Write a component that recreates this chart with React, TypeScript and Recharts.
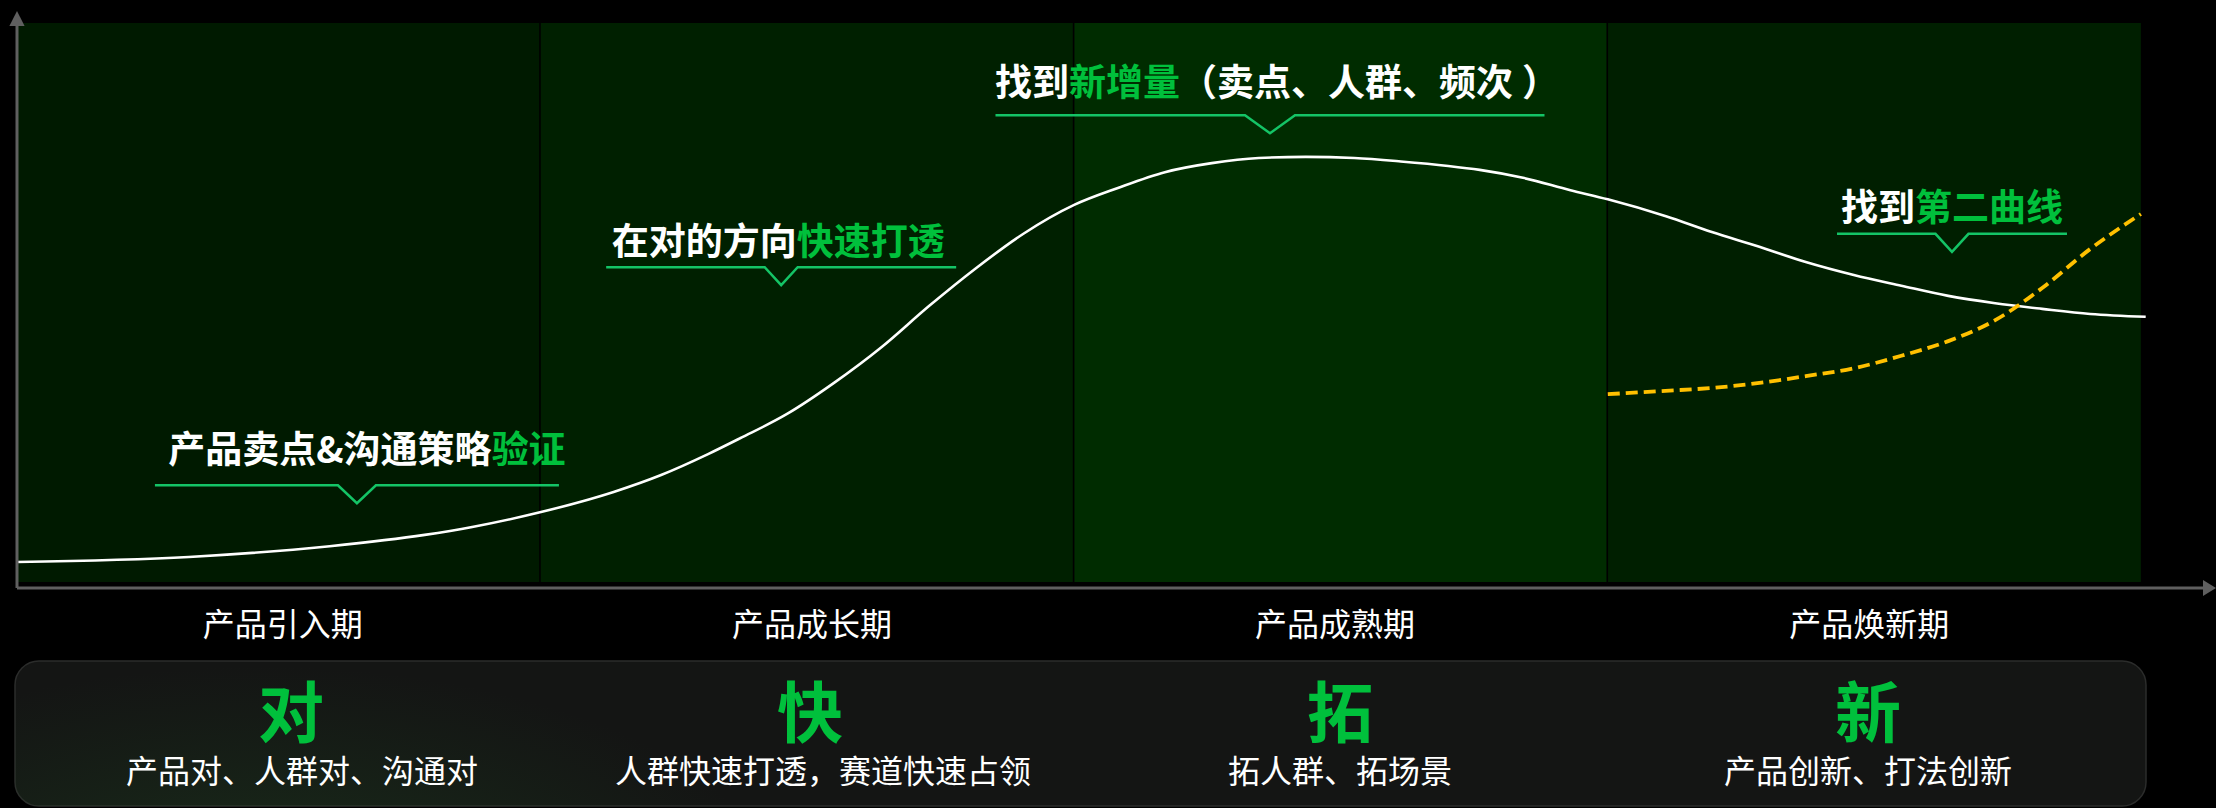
import React from 'react';
import { ComposedChart, Line, XAxis, YAxis, ReferenceArea, ReferenceLine, ReferenceDot } from 'recharts';

// ---------------- data ----------------
const stages = ['产品引入期', '产品成长期', '产品成熟期', '产品焕新期'];
const stageFrom = [2, 100, 200, 300];
const stageTo = [100, 200, 300, 400];
const stageLabelAt = [51.8, 151.0, 249.0, 349.1];

// product life-cycle curve (white)
const lifeX = [2.0, 34.2, 60.6, 78.4, 87.3, 100.0, 113.8, 122.7, 131.5, 137.5, 146.3, 155.1, 164.1, 172.9, 181.7, 190.6, 200.1, 208.3, 217.1, 225.9, 234.7, 243.5, 252.6, 261.3, 270.2, 276.1, 284.2, 293.1, 300.1, 311.0, 319.6, 328.5, 337.2, 346.2, 355.1, 363.9, 372.7, 381.5, 390.5, 400.9];
const lifeY = [4.6, 5.5, 7.4, 9.4, 10.8, 13.4, 17.0, 20.0, 23.7, 26.5, 30.8, 36.3, 42.7, 49.9, 56.6, 62.7, 67.8, 70.8, 73.6, 75.2, 76.1, 76.3, 76.1, 75.5, 74.7, 74.0, 72.6, 70.4, 68.8, 65.8, 63.0, 60.4, 57.7, 55.4, 53.5, 51.7, 50.4, 49.4, 48.5, 48.0];

// second curve (yellow dashed)
const secondX = [300.1, 310.9, 319.6, 328.5, 337.2, 346.2, 355.1, 363.9, 372.7, 381.5, 390.5, 400.0];
const secondY = [34.3, 34.9, 35.4, 36.3, 37.5, 38.9, 41.1, 43.7, 47.4, 53.1, 60.0, 66.2];

// callouts
const calloutLead = ['产品卖点&沟通策略', '在对的方向', '找到', '找到'];
const calloutKey = ['验证', '快速打透', '新增量', '第二曲线'];
const calloutTail = ['', '', '（卖点、人群、频次）', ''];
const calloutX = [65.7, 145.2, 236.8, 364.6];
const calloutY = [15.0, 53.6, 80.5, 59.5];

// bottom summary
const pillars = ['对', '快', '拓', '新'];
const pillarNotes = ['产品对、人群对、沟通对', '人群快速打透，赛道快速占领', '拓人群、拓场景', '产品创新、打法创新'];

// ---------------- layout / style ----------------
const W = 2216;
const H = 808;
const MARGIN = { top: 23, right: 10, bottom: 160, left: 14 };
const X_MIN = 2;
const X_MAX = 412.2;
const PANEL_FLOOR = 1.06;
const panelFills = ['#001a00', '#002000', '#002c00', '#001f00'];
const AXIS_GRAY = '#5f5f5f';
const GREEN_TEXT = '#00c03c';
const GREEN_LINE = '#14c466';
const YELLOW = '#ffc000';
const FONT = '"Noto Sans CJK SC", "Noto Sans", sans-serif';
const calloutLineW = [404, 350, 549, 230];
const calloutNotchW = [38, 33, 50, 33];
const calloutGap = [20, 10, 17, 10];
const calloutDx = [10, -3, 7, 0];
const CLOSE_PAREN_NUDGE = 9;
const NOTCH_DEPTH = 18;
const CALLOUT_FS = 37;
const pillarCx = [291, 810, 1340, 1868];
const noteCx = [302, 823, 1340, 1868];
const BOX = { x: 15, y: 661, w: 2131, h: 145, r: 24 };

const lifeData = lifeX.map((x, i) => ({ x, y: lifeY[i] }));
const secondData = secondX.map((x, i) => ({ x, y: secondY[i] }));

const StageTick = (props: any) => {
  const { x, y, payload } = props;
  const idx = stageLabelAt.indexOf(payload.value);
  return (
    <text x={x} y={y + 47.5} textAnchor="middle" fill="#ffffff" fontSize={32} fontFamily={FONT}>
      {stages[idx]}
    </text>
  );
};

const renderTail = (t: string) => {
  if (!t) return null;
  const body = t.slice(0, -1);
  const close = t[t.length - 1];
  return [
    <tspan key="b" fill="#ffffff">{body}</tspan>,
    <tspan key="c" fill="#ffffff" dx={CLOSE_PAREN_NUDGE}>{close}</tspan>,
  ];
};

const Callout = ({ cx, cy, i }: { cx: number; cy: number; i: number }) => {
  const ly = cy - NOTCH_DEPTH;
  const half = calloutLineW[i] / 2;
  const nw = calloutNotchW[i] / 2;
  const d = `M${cx - half},${ly}H${cx - nw}L${cx},${cy}L${cx + nw},${ly}H${cx + half}`;
  const base = ly - calloutGap[i] - 0.07 * CALLOUT_FS;
  return (
    <g>
      <path d={d} fill="none" stroke={GREEN_LINE} strokeWidth={2.5} />
      <text x={cx + calloutDx[i]} y={base} textAnchor="middle" fontFamily={FONT} fontSize={CALLOUT_FS} fontWeight={700}>
        <tspan fill="#ffffff">{calloutLead[i]}</tspan>
        <tspan fill={GREEN_TEXT}>{calloutKey[i]}</tspan>
        {renderTail(calloutTail[i])}
      </text>
    </g>
  );
};

export default function App() {
  return (
    <div style={{ position: 'absolute', left: 0, top: 0, width: W, height: H, background: '#000', overflow: 'hidden' }}>
      <ComposedChart width={W} height={H} margin={MARGIN}>
        <XAxis
          type="number"
          dataKey="x"
          domain={[X_MIN, X_MAX]}
          ticks={stageLabelAt}
          interval={0}
          allowDataOverflow
          height={60}
          tickSize={0}
          tickMargin={0}
          tickLine={false}
          tick={<StageTick />}
          axisLine={{ stroke: AXIS_GRAY, strokeWidth: 3, markerEnd: 'url(#arrowX)' }}
        />
        <YAxis
          type="number"
          domain={[0, 100]}
          allowDataOverflow
          width={3}
          tick={false}
          tickLine={false}
          axisLine={{ stroke: AXIS_GRAY, strokeWidth: 3, markerStart: 'url(#arrowY)' }}
        />
        {stages.map((s, i) => (
          <ReferenceArea
            key={s}
            x1={stageFrom[i]}
            x2={stageTo[i]}
            y1={PANEL_FLOOR}
            y2={100}
            fill={panelFills[i]}
            fillOpacity={1}
            stroke="none"
            ifOverflow="visible"
            zIndex={50}
          />
        ))}
        {stageFrom.slice(1).map((v) => (
          <ReferenceLine key={v} x={v} stroke="#000" strokeWidth={1.6} zIndex={60} />
        ))}
        <Line
          data={lifeData}
          dataKey="y"
          type="monotone"
          stroke="#ffffff"
          strokeWidth={2.6}
          dot={false}
          activeDot={false}
          isAnimationActive={false}
        />
        <Line
          data={secondData}
          dataKey="y"
          type="monotone"
          stroke={YELLOW}
          strokeWidth={3.8}
          strokeDasharray="12 6"
          dot={false}
          activeDot={false}
          isAnimationActive={false}
        />
        {calloutKey.map((k, i) => (
          <ReferenceDot
            key={k}
            x={calloutX[i]}
            y={calloutY[i]}
            r={1}
            ifOverflow="visible"
            zIndex={2100}
            shape={(p: any) => <Callout cx={p.cx} cy={p.cy} i={i} />}
          />
        ))}
      </ComposedChart>
      <svg width={W} height={H} style={{ position: 'absolute', left: 0, top: 0, pointerEvents: 'none' }}>
        <defs>
          <marker id="arrowX" markerUnits="userSpaceOnUse" viewBox="-5 -10 20 20" markerWidth={20} markerHeight={20} refX={0} refY={0} orient="auto">
            <path d="M-3,-8L10,0L-3,8Z" fill={AXIS_GRAY} />
          </marker>
          <marker id="arrowY" markerUnits="userSpaceOnUse" viewBox="-5 -10 20 20" markerWidth={20} markerHeight={20} refX={0} refY={0} orient="auto-start-reverse">
            <path d="M-3,-7.6L12,0L-3,7.6Z" fill={AXIS_GRAY} />
          </marker>
          <radialGradient id="boxGlow" cx={260} cy={900} r={520} gradientUnits="userSpaceOnUse" gradientTransform="translate(260 900) scale(1 0.45) translate(-260 -900)">
            <stop offset="0%" stopColor="#1f4a22" stopOpacity={0.45} />
            <stop offset="100%" stopColor="#1f4a22" stopOpacity={0} />
          </radialGradient>
        </defs>
        <rect x={BOX.x} y={BOX.y} width={BOX.w} height={BOX.h} rx={BOX.r} fill="#141514" stroke="#2b2c2b" strokeWidth={1.5} />
        <rect x={BOX.x} y={BOX.y} width={BOX.w} height={BOX.h} rx={BOX.r} fill="url(#boxGlow)" />
        {pillars.map((p, i) => (
          <text key={p} x={pillarCx[i]} y={737} textAnchor="middle" fill={GREEN_TEXT} fontSize={66} fontWeight={700} fontFamily={FONT}>
            {p}
          </text>
        ))}
        {pillarNotes.map((n, i) => (
          <text key={n} x={noteCx[i]} y={783} textAnchor="middle" fill="#ffffff" fontSize={32} fontFamily={FONT}>
            {n}
          </text>
        ))}
      </svg>
    </div>
  );
}
